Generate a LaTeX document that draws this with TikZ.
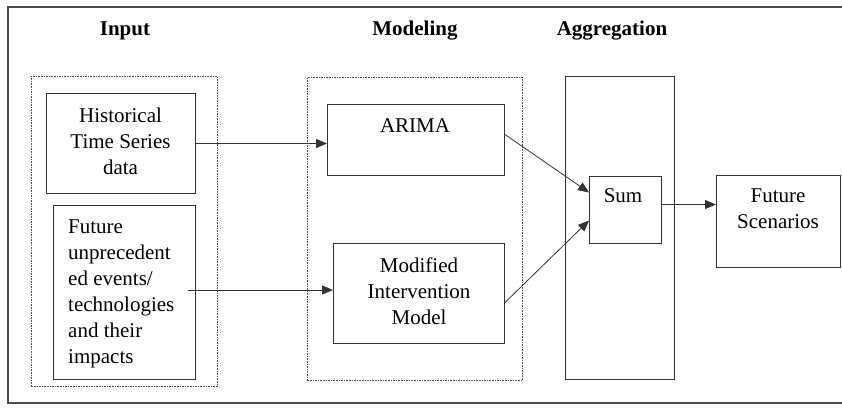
\documentclass[tikz,border=0pt]{standalone}
\usepackage{fontspec}
\setmainfont{Liberation Serif}
\usetikzlibrary{arrows.meta}

\tikzset{
  frameline/.style={draw=black!70, line width=1.3pt},
  group/.style={draw=black!70, line width=0.9pt, dash pattern=on 1.6pt off 1pt},
  box/.style={draw=black!80, line width=1pt, rectangle, inner sep=0pt, anchor=north west},
  txt/.style={inner sep=0pt, anchor=base, font=\fontsize{21}{26}\selectfont},
  head/.style={txt, font=\fontsize{21}{26}\selectfont\bfseries},
  arr/.style={draw=black!80, line width=0.8pt, -{Triangle[length=11pt,width=9pt]}},
}

\begin{document}
\begin{tikzpicture}[x=1pt, y=-1pt]
  \useasboundingbox (0,0) rectangle (842,407);

  % outer frame (right side runs past the page edge)
  \begin{scope}
    \clip (0,0) rectangle (842,407);
    \draw[frameline] (8,7) rectangle (860,403);
  \end{scope}

  % column headings
  \node[head] (hInput) at (125,35) {Input};
  \node[head] (hModel) at (415,35) {Modeling};
  \node[head] (hAggr)  at (612,35) {Aggregation};

  % group outlines
  \node[box, group, minimum width=186pt, minimum height=310pt] (gInput) at (31,76) {};
  \node[box, group, minimum width=215pt, minimum height=303pt] (gModel) at (307,77) {};
  \node[box, minimum width=109pt, minimum height=303pt] (gAggr) at (565,76) {};

  % input boxes
  \node[box, minimum width=149pt, minimum height=100pt] (hist) at (46,93) {};
  \node[txt] (histA) at (120.5,122) {Historical};
  \node[txt] (histB) at (120.5,148) {Time Series};
  \node[txt] (histC) at (120.5,174) {data};

  \node[box, minimum width=142pt, minimum height=174pt] (fut) at (53,205) {};
  \node[txt, anchor=base west] (futA) at (68,233) {Future};
  \node[txt, anchor=base west] (futB) at (68,259) {unprecedent};
  \node[txt, anchor=base west] (futC) at (68,285) {ed events/};
  \node[txt, anchor=base west] (futD) at (68,311) {technologies};
  \node[txt, anchor=base west] (futE) at (68,337) {and their};
  \node[txt, anchor=base west] (futF) at (68,363) {impacts};

  % modeling boxes
  \node[box, minimum width=177pt, minimum height=71pt] (arima) at (327,104) {};
  \node[txt] (arimaT) at (415,132) {ARIMA};

  \node[box, minimum width=171pt, minimum height=100pt] (mim) at (333,243) {};
  \node[txt] (mimA) at (419,272) {Modified};
  \node[txt] (mimB) at (419,298) {Intervention};
  \node[txt] (mimC) at (419,324) {Model};

  % aggregation and result
  \node[box, minimum width=72pt, minimum height=67pt] (sum) at (589,176) {};
  \node[txt] (sumT) at (623,202) {Sum};

  \node[box, minimum width=124pt, minimum height=92pt] (fs) at (716,175) {};
  \node[txt] (fsA) at (778,202) {Future};
  \node[txt] (fsB) at (778,228) {Scenarios};

  % connectors
  \coordinate (futOut) at (188,290);
  \draw[arr] (hist.east) -- (hist.east -| arima.west);
  \draw[arr] (futOut) -- (futOut -| mim.west);
  \draw[arr] ([yshift=5.5pt]arima.east) -- ([yshift=17.5pt]sum.west);
  \draw[arr] ([yshift=-9pt]mim.east) -- ([yshift=-10.5pt]sum.west);
  \draw[arr] ([yshift=5.5pt]sum.east) -- ([yshift=5.5pt]sum.east -| fs.west);
\end{tikzpicture}
\end{document}
